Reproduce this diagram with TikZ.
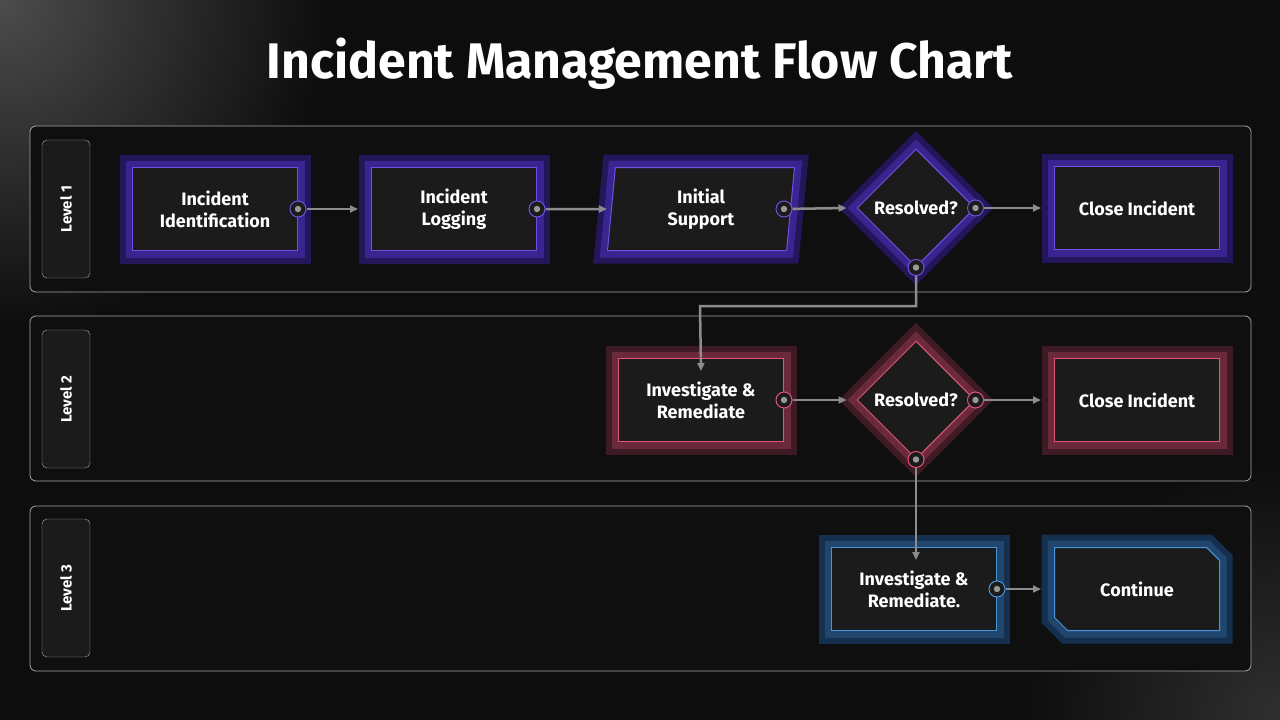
\documentclass[tikz,border=0pt]{standalone}
\usepackage{fontspec}
\setmainfont{Fira Sans}
\usetikzlibrary{arrows.meta,shapes.geometric,shapes.misc,positioning}
\definecolor{bgc}{HTML}{0D0D0D}
\definecolor{lanec}{HTML}{0F0F0F}
\definecolor{boxc}{HTML}{1B1B1B}
\definecolor{pdark}{HTML}{24165A}
\definecolor{pmid}{HTML}{3A2590}
\definecolor{pline}{HTML}{7050E0}
\definecolor{rdark}{HTML}{3E1A24}
\definecolor{rmid}{HTML}{6A2A3C}
\definecolor{rline}{HTML}{E0557A}
\definecolor{bdark}{HTML}{15304E}
\definecolor{bmid}{HTML}{21466E}
\definecolor{bline}{HTML}{4A94D8}
\definecolor{arrc}{HTML}{8C8C8C}
\begin{document}
\begin{tikzpicture}[
    x=1pt, y=-1pt,
    >={Triangle[angle=60:7pt,length=8pt]},
    lane/.style={draw=gray!70, fill=lanec, rounded corners=6pt, line width=0.8pt},
    levtag/.style={draw=gray!70, fill=boxc, rounded corners=5pt, minimum width=138pt,
      minimum height=48pt, rotate=90, text=white, font=\bfseries\fontsize{15}{17}\selectfont},
    fbox/.style={fill=boxc, text=white, align=center, line width=1pt,
      font=\bfseries\fontsize{18}{22}\selectfont, inner sep=2pt},
    glow/.style 2 args={preaction={draw=#1, line width=26pt},
      preaction={draw=#2, line width=14pt}},
    proc/.style={fbox, rectangle, minimum width=165pt, minimum height=83pt},
    purp/.style={glow={pdark}{pmid}, draw=pline},
    redd/.style={glow={rdark}{rmid}, draw=rline},
    bluu/.style={glow={bdark}{bmid}, draw=bline},
    dec/.style={fbox, diamond, minimum width=118pt, minimum height=118pt, inner sep=0pt},
    port/.style={circle, draw=#1, fill=boxc, minimum size=16pt, inner sep=0pt, line width=1pt,
      path picture={\fill[gray!80] (path picture bounding box.center) circle (3.2pt);}},
    flow/.style={->, draw=arrc, line width=2.5pt}
  ]
  % background
  \useasboundingbox (0,0) rectangle (1280,720);
  \begin{scope}
    \clip (0,0) rectangle (1280,720);
    \fill[bgc] (0,0) rectangle (1280,720);
    \shade[inner color=gray!55!bgc, outer color=bgc] (0,0) circle (330);
    \shade[inner color=gray!30!bgc, outer color=bgc] (1280,720) circle (260);
  \end{scope}
  \node[text=white, font=\bfseries\fontsize{50}{56}\selectfont] (title) at (640,64) {Incident Management Flow Chart};

  % lanes
  \draw[lane] (30,126) rectangle (1251,292);
  \draw[lane] (30,316) rectangle (1251,481);
  \draw[lane] (30,506) rectangle (1251,671);
  \node[levtag] (L1) at (66,209) {Level 1};
  \node[levtag] (L2) at (66,399) {Level 2};
  \node[levtag] (L3) at (66,588) {Level 3};

  % level 1
  \node[proc, purp] (ident) at (215,209) {Incident\\Identification};
  \node[proc, purp] (logg) at (454,209) {Incident\\Logging};
  \node[fbox, purp, trapezium, trapezium left angle=80, trapezium right angle=100,
    minimum width=187pt, minimum height=83pt, trapezium stretches body] (supp) at (701,209) {Initial\\Support};
  \node[dec, purp] (res1) at (916,208) {Resolved?};
  \node[proc, purp] (close1) at (1137,208) {Close Incident};

  % level 2
  \node[proc, redd] (inv2) at (701,400) {Investigate \&\\Remediate};
  \node[dec, redd] (res2) at (916,400) {Resolved?};
  \node[proc, redd] (close2) at (1137,400) {Close Incident};

  % level 3
  \node[proc, bluu] (inv3) at (914,589) {Investigate \&\\Remediate.};
  \node[proc, bluu, chamfered rectangle, chamfered rectangle corners={north east,south west},
    chamfered rectangle xsep=12pt] (cont) at (1137,589) {Continue};

  % ports
  \node[port=pline] (p1) at (ident.east) {};
  \node[port=pline] (p2) at (logg.east) {};
  \node[port=pline] (p3) at (784,209) {};
  \node[port=pline] (p4) at (res1.east) {};
  \node[port=pline] (p5) at (res1.south) {};
  \node[port=rline] (p6) at (inv2.east) {};
  \node[port=rline] (p7) at (res2.east) {};
  \node[port=rline] (p8) at (res2.south) {};
  \node[port=bline] (p9) at (inv3.east) {};

  % connectors
  \draw[flow] (p1) -- ([xshift=-13pt]logg.west);
  \draw[flow] (p2) -- ([xshift=-4pt]supp.west);
  \draw[flow] (p3) -- ([xshift=-10pt]res1.west);
  \draw[flow] (p4) -- ([xshift=-13pt]close1.west);
  \draw[flow] (p5) |- (700,306) -- ([yshift=-13pt]inv2.north);
  \draw[flow] (p6) -- ([xshift=-10pt]res2.west);
  \draw[flow] (p7) -- ([xshift=-13pt]close2.west);
  \draw[flow] (p8) -- ([yshift=-13pt]inv3.north -| p8);
  \draw[flow] (p9) -- ([xshift=-13pt]cont.west);
\end{tikzpicture}
\end{document}
